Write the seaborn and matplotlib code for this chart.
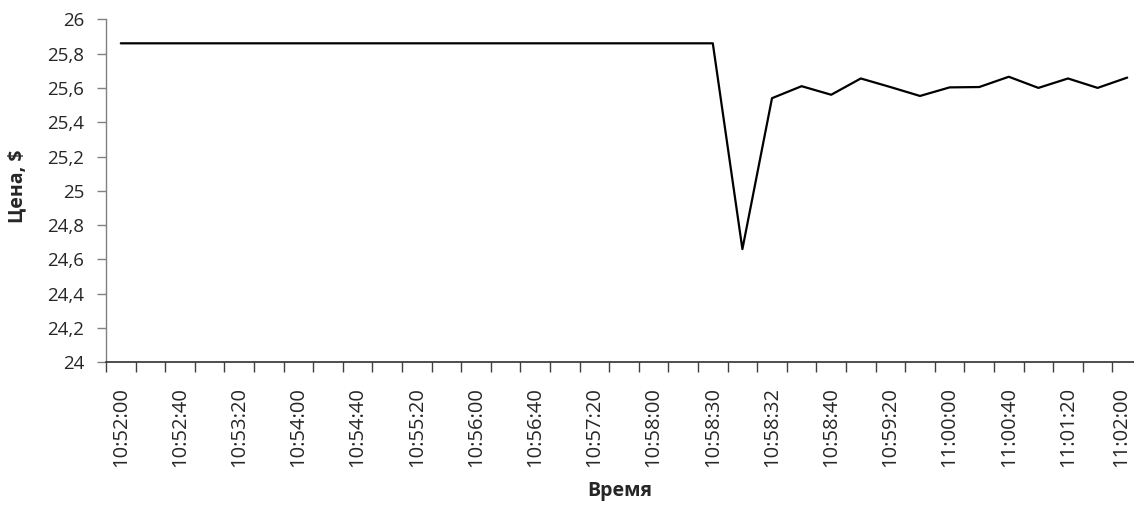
import matplotlib
matplotlib.use("Agg")
import matplotlib.pyplot as plt
import matplotlib.transforms as mtransforms
import seaborn as sns
import pandas as pd

times = ["10:52:00", "10:52:20", "10:52:40", "10:53:00", "10:53:20", "10:53:40",
         "10:54:00", "10:54:20", "10:54:40", "10:55:00", "10:55:20", "10:55:40",
         "10:56:00", "10:56:20", "10:56:40", "10:57:00", "10:57:20", "10:57:40",
         "10:58:00", "10:58:20", "10:58:30", "10:58:31", "10:58:32", "10:58:36",
         "10:58:40", "10:59:00", "10:59:20", "10:59:40", "11:00:00", "11:00:20",
         "11:00:40", "11:01:00", "11:01:20", "11:01:40", "11:02:00"]
prices = [25.86, 25.86, 25.86, 25.86, 25.86, 25.86, 25.86, 25.86, 25.86, 25.86,
          25.86, 25.86, 25.86, 25.86, 25.86, 25.86, 25.86, 25.86, 25.86, 25.86,
          25.86, 24.66, 25.54, 25.61, 25.56, 25.655, 25.605, 25.553, 25.603, 25.605,
          25.665, 25.60, 25.655, 25.60, 25.66]
yticks = [24, 24.2, 24.4, 24.6, 24.8, 25, 25.2, 25.4, 25.6, 25.8, 26]
ytick_labels = ["24", "24,2", "24,4", "24,6", "24,8", "25", "25,2", "25,4", "25,6", "25,8", "26"]

df = pd.DataFrame({"idx": range(len(times)), "time": times, "price": prices})

sns.set_theme(style="white")
plt.rcParams['font.family'] = ['Open Sans', 'DejaVu Sans']

fig = plt.figure(figsize=(11.34, 5.08), dpi=100)
W, H = 1134, 508
left, right, top, bottom = 106, 1142, 19.3, 362.3
ax = fig.add_axes([left / W, 1 - bottom / H, (right - left) / W, (bottom - top) / H])

sns.lineplot(data=df, x="idx", y="price", ax=ax, color="black", linewidth=1.6)

ax.set_xlim(-0.5, len(times) - 0.5)
ax.set_ylim(24, 26)
ax.set_yticks(yticks)
ax.set_yticklabels(ytick_labels, fontsize=13.5)

major = list(range(0, len(times), 2))
ax.set_xticks(major)
ax.set_xticklabels([times[i] for i in major], rotation=90, fontsize=14.5)
ax.set_xticks([i - 0.5 for i in range(len(times) + 1)], minor=True)
ax.tick_params(axis="x", which="major", length=0, pad=18)
ax.tick_params(axis="x", which="minor", length=7.5, width=1, color="#404040", direction="out", bottom=True)
ax.tick_params(axis="y", which="major", length=6.5, width=1, color="#808080", direction="out", left=True, pad=9)

# keep the last label inside the figure, as in the reference
last = ax.get_xticklabels()[-1]
last.set_transform(last.get_transform() + mtransforms.ScaledTranslation(-6 / 100, 0, fig.dpi_scale_trans))

for s in ["top", "right"]:
    ax.spines[s].set_visible(False)
ax.spines["left"].set_color("#808080")
ax.spines["left"].set_linewidth(1)
ax.spines["bottom"].set_color("#303030")
ax.spines["bottom"].set_linewidth(1.2)

ax.set_xlabel("Время", fontsize=14, fontweight="bold")
ax.set_ylabel("Цена, $", fontsize=14, fontweight="bold")
ax.xaxis.set_label_coords((620 - left) / (right - left), (bottom - 481) / (bottom - top))
ax.yaxis.set_label_coords((27 - left) / (right - left), (bottom - 186) / (bottom - top))

fig.savefig("out.png", dpi=100, facecolor="white")
